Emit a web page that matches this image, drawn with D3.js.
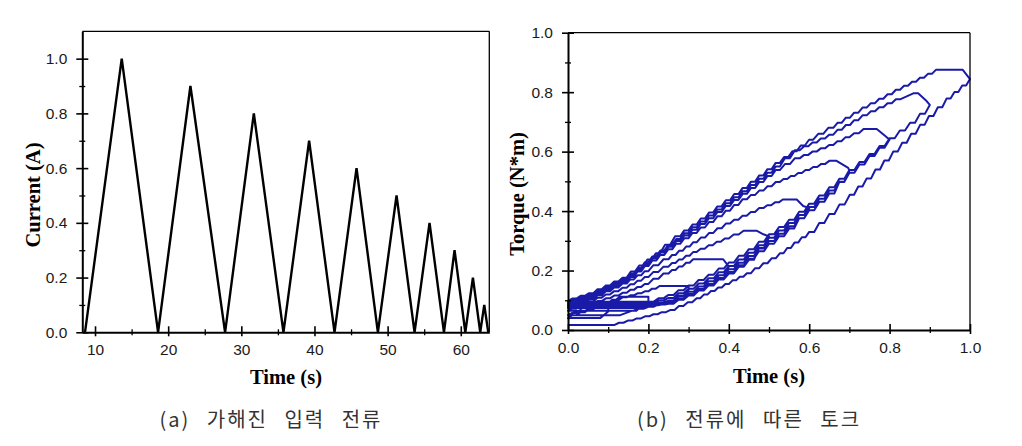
<!DOCTYPE html>
<html><head><meta charset="utf-8">
<script src="https://cdn.jsdelivr.net/npm/d3@7"></script>
<style>body{margin:0;background:#fff} svg{display:block}</style>
</head><body><svg id="c" width="1022" height="446"></svg>
<script>
// ---------- data: (a) applied input current ----------
const timeS    = [8.63, 13.65, 18.62, 23.04, 27.78, 31.71, 35.76, 39.27, 42.74, 45.75, 48.67, 51.22, 53.68, 55.73, 57.70, 59.15, 60.62, 61.66, 62.66, 63.21, 63.76];
const currentA = [0, 1.0, 0, 0.9, 0, 0.8, 0, 0.7, 0, 0.6, 0, 0.5, 0, 0.4, 0, 0.3, 0, 0.2, 0, 0.1, 0];
const xTicksA = [10, 20, 30, 40, 50, 60];
const xMinorA = [15, 25, 35, 45, 55];
const yTicksA = [0, 0.2, 0.4, 0.6, 0.8, 1.0];
const yMinorA = [0.1, 0.3, 0.5, 0.7, 0.9];

// ---------- data: (b) torque vs current, one loop per current peak ----------
const loop10 = [[0,0.017],[0.105,0.017],[0.171,0.039],[0.254,0.067],[0.32,0.107],[0.445,0.191],[0.527,0.258],[0.6,0.33],[0.65,0.39],[0.701,0.455],[0.743,0.51],[0.809,0.6],[0.876,0.69],[0.942,0.779],[1.0,0.844],
  [0.982,0.875],[0.925,0.875],[0.826,0.808],[0.743,0.748],[0.66,0.68],[0.61,0.64],[0.527,0.562],[0.445,0.478],[0.361,0.395],[0.279,0.315],[0.229,0.258],[0.146,0.176],[0.063,0.124],[0,0.097]];
const loop09 = [[0,0.095],[0.2,0.095],[0.25,0.118],[0.3,0.15],[0.35,0.186],[0.4,0.227],[0.45,0.272],[0.5,0.322],[0.55,0.371],[0.6,0.425],[0.65,0.48],[0.7,0.538],[0.75,0.592],[0.8,0.645],[0.851,0.697],[0.9,0.757],
  [0.892,0.77],[0.871,0.796],[0.859,0.796],[0.826,0.776],[0.743,0.722],[0.66,0.657],[0.577,0.605],[0.527,0.55],[0.445,0.467],[0.361,0.385],[0.279,0.306],[0.2,0.228],[0.146,0.17],[0.063,0.118],[0,0.091]];
const loop08 = [[0,0.09],[0.2,0.09],[0.25,0.108],[0.3,0.139],[0.35,0.174],[0.4,0.215],[0.45,0.26],[0.5,0.31],[0.55,0.36],[0.6,0.414],[0.65,0.469],[0.7,0.529],[0.75,0.585],[0.8,0.641],
  [0.793,0.648],[0.768,0.676],[0.747,0.676],[0.7,0.648],[0.66,0.622],[0.577,0.578],[0.527,0.538],[0.445,0.458],[0.361,0.376],[0.279,0.299],[0.2,0.222],[0.146,0.164],[0.063,0.112],[0,0.086]];
const loop07 = [[0,0.085],[0.2,0.085],[0.25,0.099],[0.3,0.129],[0.35,0.164],[0.4,0.204],[0.45,0.249],[0.5,0.299],[0.55,0.349],[0.6,0.403],[0.65,0.459],[0.7,0.537],
  [0.697,0.545],[0.668,0.569],[0.66,0.569],[0.6,0.538],[0.527,0.498],[0.445,0.44],[0.361,0.363],[0.279,0.29],[0.2,0.215],[0.146,0.16],[0.063,0.107],[0,0.082]];
const loop06 = [[0,0.082],[0.19,0.082],[0.25,0.092],[0.3,0.121],[0.35,0.155],[0.4,0.195],[0.45,0.24],[0.5,0.29],[0.55,0.341],[0.6,0.41],
  [0.585,0.417],[0.569,0.439],[0.544,0.439],[0.486,0.41],[0.403,0.358],[0.32,0.295],[0.25,0.238],[0.2,0.198],[0.146,0.156],[0.063,0.104],[0,0.078]];
const loop05 = [[0,0.078],[0.18,0.078],[0.25,0.088],[0.3,0.116],[0.35,0.15],[0.4,0.19],[0.45,0.236],[0.5,0.315],
  [0.486,0.322],[0.469,0.334],[0.449,0.334],[0.4,0.308],[0.32,0.262],[0.25,0.213],[0.2,0.178],[0.146,0.142],[0.063,0.097],[0,0.074]];
const loop04 = [[0,0.074],[0.17,0.074],[0.25,0.092],[0.3,0.12],[0.35,0.155],[0.4,0.213],
  [0.386,0.238],[0.32,0.238],[0.25,0.19],[0.2,0.155],[0.146,0.125],[0.063,0.088],[0,0.065]];
const loop03 = [[0,0.065],[0.15,0.065],[0.2,0.078],[0.25,0.095],[0.3,0.135],
  [0.3,0.148],[0.237,0.148],[0.2,0.13],[0.146,0.11],[0.063,0.072],[0,0.05]];
const loop02 = [[0,0.05],[0.13,0.05],[0.16,0.065],[0.2,0.09],
  [0.2,0.112],[0.138,0.112],[0.063,0.07],[0,0.04]];
const loop01 = [[0,0.04],[0.08,0.04],[0.1,0.062],
  [0.1,0.08],[0.05,0.08],[0,0.036]];
const loops = [loop10, loop09, loop08, loop07, loop06, loop05, loop04, loop03, loop02, loop01];
const ticksB = [0, 0.2, 0.4, 0.6, 0.8, 1.0];
const minorB = [0.1, 0.3, 0.5, 0.7, 0.9];

const svg = d3.select("#c");
const tickFont = "'Liberation Sans', Arial, sans-serif";
const titleFont = "'Liberation Serif', 'Times New Roman', serif";
const capFont = "'Noto Sans CJK KR', sans-serif";

// drawing style: the sensor trace is rendered as a fine jagged staircase between read points
function StairCurve(ctx) { this._ctx = ctx; }
StairCurve.prototype = {
  areaStart() {}, areaEnd() {},
  lineStart() { this._p = null; },
  lineEnd() {},
  point(x, y) {
    x = +x; y = +y;
    if (!this._p) { this._ctx.moveTo(x, y); this._p = [x, y]; return; }
    const [x0, y0] = this._p, dx = x - x0, dy = y - y0;
    const n = Math.floor(Math.abs(dx) / 7);
    if (n >= 2 && Math.abs(dy) > 2) {
      for (let i = 0; i < n; i++) {
        this._ctx.lineTo(x0 + dx * (i + 0.5) / n, y0 + dy * i / n);
        this._ctx.lineTo(x0 + dx * (i + 1) / n, y0 + dy * (i + 1) / n);
      }
    } else this._ctx.lineTo(x, y);
    this._p = [x, y];
  }
};
const stairCurve = ctx => new StairCurve(ctx);

function frame(g, x, y, xt, xm, yt, ym, xfmt, yfmt) {
  const [x0, x1] = x.range(), [y0, y1] = y.range();
  g.append("line").attr("x1", x0).attr("x2", x1).attr("y1", y1).attr("y2", y1).attr("stroke", "#000").attr("stroke-width", 1.3);
  g.append("line").attr("x1", x1).attr("x2", x1).attr("y1", y0).attr("y2", y1).attr("stroke", "#000").attr("stroke-width", 1.3);
  const ax = g.append("g").attr("transform", `translate(0,${y0})`)
    .call(d3.axisBottom(x).tickValues(xt).tickFormat(xfmt).tickSizeOuter(0).tickPadding(6));
  ax.selectAll(".tick line").attr("y1", -6).attr("y2", 4).attr("stroke-width", 1.6);
  ax.select(".domain").attr("stroke-width", 2);
  const axm = g.append("g").attr("transform", `translate(0,${y0})`)
    .call(d3.axisBottom(x).tickValues(xm).tickFormat("").tickSizeOuter(0));
  axm.selectAll(".tick line").attr("y1", -3).attr("y2", 3).attr("stroke-width", 1.3);
  axm.select(".domain").remove();
  const ay = g.append("g").attr("transform", `translate(${x0},0)`)
    .call(d3.axisLeft(y).tickValues(yt).tickFormat(yfmt).tickSizeOuter(0).tickPadding(9));
  ay.selectAll(".tick line").attr("x1", -6).attr("x2", 6).attr("stroke-width", 1.6);
  ay.select(".domain").attr("stroke-width", 2);
  const aym = g.append("g").attr("transform", `translate(${x0},0)`)
    .call(d3.axisLeft(y).tickValues(ym).tickFormat("").tickSizeOuter(0));
  aym.selectAll(".tick line").attr("x1", -3).attr("x2", 3).attr("stroke-width", 1.3);
  aym.select(".domain").remove();
  g.selectAll(".tick text").attr("font-family", tickFont).attr("font-size", 15.5).attr("fill", "#1a1a1a");
}

// ---------- (a) ----------
const xA = d3.scaleLinear().domain([8.26, 63.9]).range([82.3, 489.3]);
const yA = d3.scaleLinear().domain([0, 1.1]).range([332.3, 31.3]);
const gA = svg.append("g");
gA.append("path")
  .datum(d3.zip(timeS, currentA))
  .attr("d", d3.line().x(d => xA(d[0])).y(d => yA(d[1])))
  .attr("fill", "none").attr("stroke", "#000").attr("stroke-width", 2.4).attr("stroke-linejoin", "miter");
frame(gA, xA, yA, xTicksA, xMinorA, yTicksA, yMinorA, d3.format("d"), d3.format(".1f"));
gA.append("text").attr("x", 286).attr("y", 384).attr("text-anchor", "middle")
  .attr("font-family", titleFont).attr("font-weight", "bold").attr("font-size", 20.5).text("Time (s)");
gA.append("text").attr("transform", "translate(40,195) rotate(-90)").attr("text-anchor", "middle")
  .attr("font-family", titleFont).attr("font-weight", "bold").attr("font-size", 20.5).text("Current (A)");

// ---------- (b) ----------
const xB = d3.scaleLinear().domain([0, 1]).range([568, 970]);
const yB = d3.scaleLinear().domain([0, 1]).range([330, 32.7]);
const gB = svg.append("g");
gB.append("path")
  .datum(loops.flat())
  .attr("d", d3.line().x(d => xB(d[0])).y(d => yB(d[1])).curve(stairCurve))
  .attr("fill", "none").attr("stroke", "#1a1aa8").attr("stroke-width", 2).attr("stroke-linejoin", "round");
frame(gB, xB, yB, ticksB, minorB, ticksB, minorB, d3.format(".1f"), d3.format(".1f"));
gB.append("text").attr("x", 769).attr("y", 383).attr("text-anchor", "middle")
  .attr("font-family", titleFont).attr("font-weight", "bold").attr("font-size", 20.5).text("Time (s)");
gB.append("text").attr("transform", "translate(524,194) rotate(-90)").attr("text-anchor", "middle")
  .attr("font-family", titleFont).attr("font-weight", "bold").attr("font-size", 20.5).text("Torque (N*m)");

// ---------- captions ----------
svg.append("text").attr("x", 271).attr("y", 427).attr("text-anchor", "middle")
  .attr("font-family", capFont).attr("font-size", 20).attr("fill", "#333").attr("word-spacing", 10).attr("letter-spacing", 2)
  .text("(a) 가해진 입력 전류");
svg.append("text").attr("x", 749).attr("y", 427).attr("text-anchor", "middle")
  .attr("font-family", capFont).attr("font-size", 20).attr("fill", "#333").attr("word-spacing", 10).attr("letter-spacing", 2)
  .text("(b) 전류에 따른 토크");
</script></body></html>
